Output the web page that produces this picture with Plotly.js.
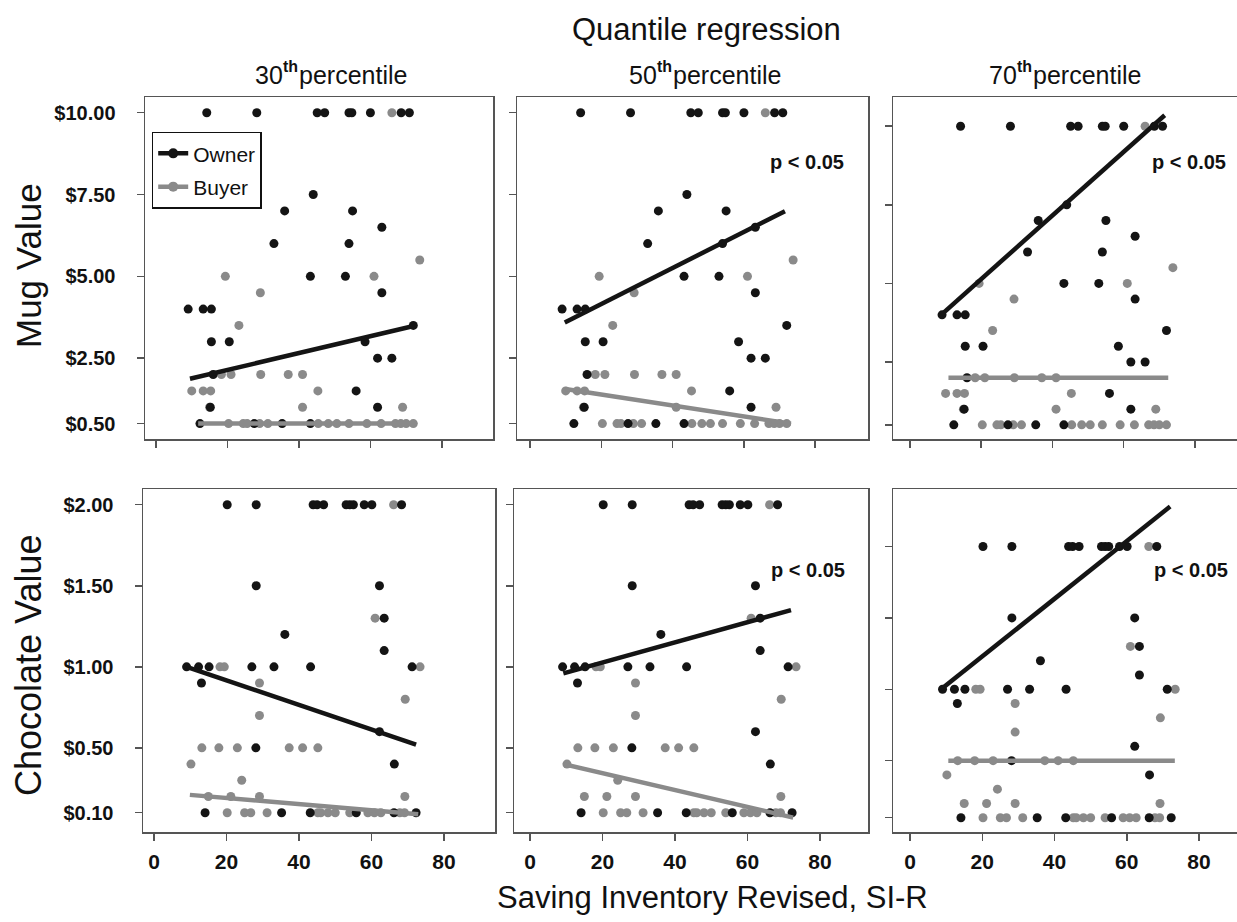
<!DOCTYPE html>
<html><head><meta charset="utf-8">
<script src="https://cdn.plot.ly/plotly-3.0.1.min.js"></script>
<style>body{margin:0;background:#fff}#chart{width:1237px;height:922px}</style>
</head><body><div id="chart"></div>
<script>
// ---- data ----
const mugOwnerX = [14.2,28.2,45.1,47.2,54.0,54.8,60.0,68.6,70.9, 44, 36,55, 63.2, 33,54, 43.2,53, 63.2, 9,13.2,15.5, 72, 15.5,20.5,58.5, 62,66, 16, 56, 15.2,62, 12.3,27.5,35.3,43.2];
const mugOwnerY = [10,10,10,10,10,10,10,10,10, 7.5, 7,7, 6.5, 6,6, 5,5, 4.5, 4,4,4, 3.5, 3,3,3, 2.5,2.5, 2, 1.5, 1,1, 0.5,0.5,0.5,0.5];
const mugBuyerX = [66, 73.8, 19.4,61, 29.2, 23.2, 18.3,21,29.3,37,41, 10,13.2,15.3,45.3, 15,41,69, 20.3,24.4,25.5,29,31.3,45.4,48.2,50.6,54,59,63,67,68.5,70,72];
const mugBuyerY = [10, 5.5, 5,5, 4.5, 3.5, 2,2,2,2,2, 1.5,1.5,1.5,1.5, 1,1,1, 0.5,0.5,0.5,0.5,0.5,0.5,0.5,0.5,0.5,0.5,0.5,0.5,0.5,0.5,0.5];
const chocOwnerX = [20.2,28.2,43.9,45,46.8,53,54,55,58,60.1,68.3, 28.2,62.2, 63.5, 36.1, 63.5, 9,12.3,15.2,27,33.1,43.2,71.2, 13.1, 62.2, 28.1, 66.3, 14.1,35.2,43.1,55.8,66.2,72.3];
const chocOwnerY = [2,2,2,2,2,2,2,2,2,2,2, 1.5,1.5, 1.3, 1.2, 1.1, 1,1,1,1,1,1,1, 0.9, 0.6, 0.5, 0.4, 0.1,0.1,0.1,0.1,0.1,0.1];
const chocBuyerX = [66.1, 61, 18.2,19.4,73.4, 29.1, 69.3, 29.1, 13.2,17.9,23,37.3,41,45.2, 10.2, 24.2, 15,21.2,29.1,69.2, 20.2,25,26.7,31.2,45.2,46,48,50,54,59,60.8,62.6,67.8,69.1];
const chocBuyerY = [2, 1.3, 1,1,1, 0.9, 0.8, 0.7, 0.5,0.5,0.5,0.5,0.5,0.5, 0.4, 0.3, 0.2,0.2,0.2,0.2, 0.1,0.1,0.1,0.1,0.1,0.1,0.1,0.1,0.1,0.1,0.1,0.1,0.1,0.1];

// quantile regression fit endpoints (30th, 50th, 70th percentile)
const mugOwnerFitX = [[9.5,72.4],[9.75,71.5],[8.75,71.5]];
const mugOwnerFitY = [[1.87,3.49],[3.59,6.99],[4.0,10.35]];
const mugBuyerFitX = [[11.8,72.9],[9.9,73.2],[10.8,72.5]];
const mugBuyerFitY = [[0.5,0.5],[1.56,0.5],[2.0,2.0]];
const chocOwnerFitX = [[9,72.3],[9.2,72],[8.6,72]];
const chocOwnerFitY = [[1.0,0.52],[0.96,1.35],[1.0,2.28]];
const chocBuyerFitX = [[9.9,72.9],[9.2,72.6],[10.6,73.3]];
const chocBuyerFitY = [[0.21,0.09],[0.40,0.07],[0.5,0.5]];

const percentiles = ['30','50','70'];
const xTickVals = [0,20,40,60,80];
const xTickText = ['0','20','40','60','80'];
const mugTickVals = [0.5,2.5,5,7.5,10];
const mugTickText = ['$0.50','$2.50','$5.00','$7.50','$10.00'];
const chocTickVals = [0.1,0.5,1,1.5,2];
const chocTickText = ['$0.10','$0.50','$1.00','$1.50','$2.00'];
const pLabel = 'p < 0.05';
const significant = [[false,true,true],[false,true,true]];

// ---- layout geometry (pixels) ----
const W = 1237, H = 922;
const FONT = '"Liberation Sans", Arial, sans-serif';
const BLACK = '#141414', GRAY = '#8a8a8a', AX = '#555555';
const panels = [
  {l:145,r:493,t:97,b:439, xr:[-3.08,94.3], yr:[0.03,10.48]},
  {l:517,r:868,t:97,b:439, xr:[-3.65,94.8], yr:[0.03,10.48]},
  {l:893,r:1237,t:97,b:439, xr:[-4.77,91.8], yr:[0.05,10.93]},
  {l:143,r:495,t:489,b:832, xr:[-3.03,94.07], yr:[-0.019,2.097]},
  {l:514,r:868,t:489,b:832, xr:[-4.41,93.24], yr:[-0.019,2.097]},
  {l:893,r:1237,t:489,b:832, xr:[-4.71,90.51], yr:[0.0,2.403]}
];

const traces = [];
const layout = {
  width: W, height: H,
  margin: {l:0,r:0,t:0,b:0},
  paper_bgcolor: '#fff', plot_bgcolor: '#fff',
  showlegend: true,
  legend: {x:151.7/W, y:1-131.7/H, xanchor:'left', yanchor:'top',
           bordercolor:'#111', borderwidth:1.5, bgcolor:'#fff', traceorder:'grouped', tracegroupgap:3,
           font:{family:FONT, size:21, color:'#111'}, itemwidth:30},
  font: {family: FONT, color:'#111'},
  annotations: []
};

panels.forEach((p, i) => {
  const row = Math.floor(i/3), col = i%3;
  const n = i+1;
  const xa = n===1 ? 'x' : 'x'+n, ya = n===1 ? 'y' : 'y'+n;
  const xk = n===1 ? 'xaxis' : 'xaxis'+n, yk = n===1 ? 'yaxis' : 'yaxis'+n;
  layout[xk] = {
    domain:[p.l/W, p.r/W], range:p.xr, anchor:ya,
    showgrid:false, zeroline:false, showline:true, mirror:true,
    linecolor:AX, linewidth:1.5, ticks:'outside', ticklen:7, tickwidth:1.5, tickcolor:AX,
    tickvals:xTickVals, ticktext:xTickText, showticklabels: row===1,
    tickfont:{family:FONT, size:21, color:'#111', weight:'bold'}, ticklabelstandoff:3
  };
  layout[yk] = {
    domain:[1-p.b/H, 1-p.t/H], range:p.yr, anchor:xa,
    showgrid:false, zeroline:false, showline:true, mirror: col<2,
    linecolor:AX, linewidth:1.5, ticks:'outside', ticklen:7, tickwidth:1.5, tickcolor:AX,
    tickvals: row===0 ? mugTickVals : chocTickVals,
    ticktext: row===0 ? mugTickText : chocTickText,
    showticklabels: col===0,
    tickfont:{family:FONT, size:20, color:'#111', weight:'bold'}, ticklabelstandoff:17
  };
  const oX = row===0 ? mugOwnerX : chocOwnerX, oY = row===0 ? mugOwnerY : chocOwnerY;
  const bX = row===0 ? mugBuyerX : chocBuyerX, bY = row===0 ? mugBuyerY : chocBuyerY;
  const ofx = row===0 ? mugOwnerFitX : chocOwnerFitX, ofy = row===0 ? mugOwnerFitY : chocOwnerFitY;
  const bfx = row===0 ? mugBuyerFitX : chocBuyerFitX, bfy = row===0 ? mugBuyerFitY : chocBuyerFitY;
  traces.push({type:'scatter', mode:'markers', x:bX, y:bY, xaxis:xa, yaxis:ya, showlegend:false,
    marker:{color:GRAY, size:9}, hoverinfo:'skip'});
  traces.push({type:'scatter', mode:'markers', x:oX, y:oY, xaxis:xa, yaxis:ya, showlegend:false,
    marker:{color:BLACK, size:9}, hoverinfo:'skip'});
  traces.push({type:'scatter', mode:'lines', x:bfx[col], y:bfy[col], xaxis:xa, yaxis:ya, showlegend:false,
    line:{color:GRAY, width:4.5}, hoverinfo:'skip'});
  traces.push({type:'scatter', mode:'lines', x:ofx[col], y:ofy[col], xaxis:xa, yaxis:ya, showlegend:false,
    line:{color:BLACK, width:4.5}, hoverinfo:'skip'});
  if (significant[row][col]) {
    layout.annotations.push({xref:'paper', yref:'paper',
      x: (row===0 ? [0,807,1189][col] : [0,808,1191][col])/W,
      y: 1-(row===0 ? 162 : 570)/H, xanchor:'center', yanchor:'middle', showarrow:false,
      text:'<b>'+pLabel+'</b>', font:{family:FONT, size:20, color:'#111'}});
  }
});

// legend-only entries
traces.push({type:'scatter', mode:'lines+markers', x:[null], y:[null], name:'Owner', legendgroup:'owner',
  line:{color:BLACK, width:4.5}, marker:{color:BLACK, size:10}, showlegend:true});
traces.push({type:'scatter', mode:'lines+markers', x:[null], y:[null], name:'Buyer', legendgroup:'buyer',
  line:{color:GRAY, width:4.5}, marker:{color:GRAY, size:10}, showlegend:true});

const ann = layout.annotations;
ann.push({xref:'paper', yref:'paper', x:706/W, y:1-30/H, xanchor:'center', yanchor:'middle', showarrow:false,
  text:'Quantile regression', font:{family:FONT, size:31, color:'#111'}});
// column subtitles: number, bold superscript "th", then "percentile"
const subX = [333, 707, 1067];
const SUB = 25, SUP = 16;
const wNum = 2*0.556*SUB, wSup = (0.333+0.611)*SUP, gap = 1, wWord = 4.335*SUB;
const wTot = wNum + wSup + gap + wWord;
percentiles.forEach((pc, k) => {
  const start = subX[k] - wTot/2;
  ann.push({xref:'paper', yref:'paper', x:(start+wNum)/W, y:1-75/H, xanchor:'right', yanchor:'middle', showarrow:false,
    text: pc, font:{family:FONT, size:SUB, color:'#111'}});
  ann.push({xref:'paper', yref:'paper', x:(start+wNum-4)/W, y:1-66/H, xanchor:'left', yanchor:'middle', showarrow:false,
    text: '<b>th</b>', font:{family:FONT, size:SUP, color:'#111'}});
  ann.push({xref:'paper', yref:'paper', x:(start+wNum+wSup+gap-4)/W, y:1-75/H, xanchor:'left', yanchor:'middle', showarrow:false,
    text: 'percentile', font:{family:FONT, size:SUB, color:'#111'}});
});
ann.push({xref:'paper', yref:'paper', x:28/W, y:1-266/H, xanchor:'center', yanchor:'middle', showarrow:false,
  textangle:-90, text:'Mug Value', font:{family:FONT, size:35, color:'#111'}});
ann.push({xref:'paper', yref:'paper', x:28/W, y:1-665/H, xanchor:'center', yanchor:'middle', showarrow:false,
  textangle:-90, text:'Chocolate Value', font:{family:FONT, size:36, color:'#111'}});
ann.push({xref:'paper', yref:'paper', x:712/W, y:1-897/H, xanchor:'center', yanchor:'middle', showarrow:false,
  text:'Saving Inventory Revised, SI-R', font:{family:FONT, size:31, color:'#111'}});

Plotly.newPlot('chart', traces, layout, {staticPlot:true, displayModeBar:false});
</script></body></html>
